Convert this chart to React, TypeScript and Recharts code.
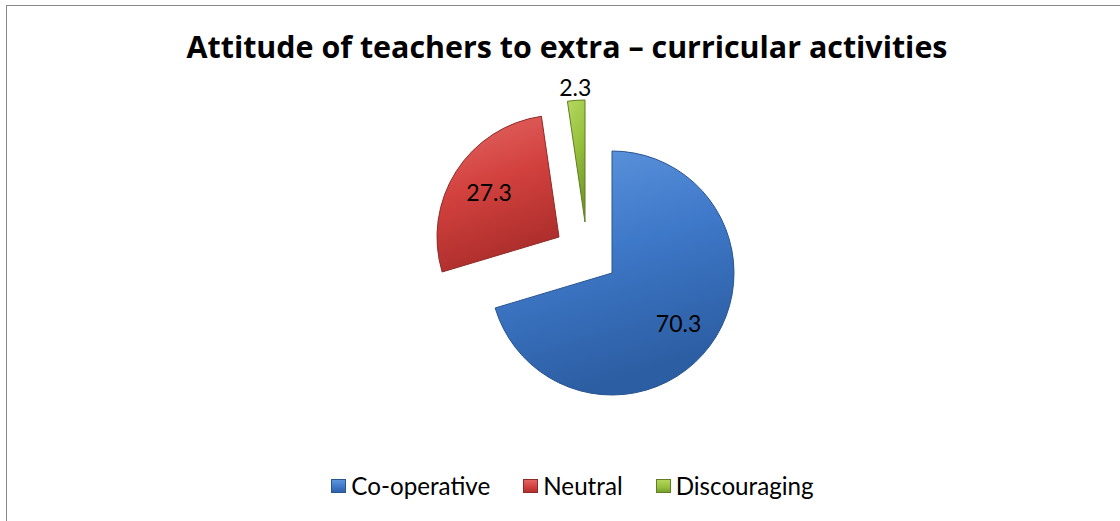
import { PieChart, Pie, Cell, Legend } from 'recharts';

const CATEGORIES = ['Co-operative', 'Neutral', 'Discouraging'];
const VALUES = [70.3, 27.3, 2.3];
const VALUE_LABELS = ['70.3', '27.3', '2.3'];

const COLORS = [
  { light: '#6198e0', mid: '#3e78c8', dark: '#2c5ea3', edge: '#2a5590' },
  { light: '#e46a67', mid: '#d2413e', dark: '#ac2e2c', edge: '#8f2a28' },
  { light: '#b6d860', mid: '#98c23e', dark: '#76992b', edge: '#5f7d22' },
];

const W = 1120;
const H = 521;
const CX = 612;
const CY = 273;
const R = 122;
// how far each slice is pulled away from the pie centre (px)
const EXPLODE = [
  { dx: 0, dy: 0 },
  { dx: -53, dy: -36 },
  { dx: -27, dy: -51 },
];

const FONT = 'Lato, "Open Sans", sans-serif';
const TITLE_FONT = '"Open Sans", Lato, sans-serif';
const RADIAN = Math.PI / 180;

const data = CATEGORIES.map((name, i) => ({ name, value: VALUES[i], label: VALUE_LABELS[i] }));

// each Pie draws the full data but only shows one slice, so it can be exploded on its own
const makeLabel = (slice: number) => (props: any) => {
  if (props.index !== slice) return null;
  const { cx, cy, midAngle, outerRadius } = props;
  const outside = slice === 2;
  const r = outside ? outerRadius + 13 : outerRadius * 0.68;
  const x = cx + r * Math.cos(-midAngle * RADIAN);
  const y = cy + r * Math.sin(-midAngle * RADIAN);
  return (
    <text
      key={`lbl-${slice}`}
      x={x}
      y={y}
      textAnchor="middle"
      dominantBaseline="central"
      fontFamily={FONT}
      fontSize={23}
      fill="#000"
    >
      {data[slice].label}
    </text>
  );
};

const renderLegend = () => (
  <div
    style={{
      display: 'flex',
      justifyContent: 'center',
      gap: 33,
      fontFamily: FONT,
      fontSize: 24.2,
      lineHeight: '28px',
      color: '#000',
    }}
  >
    {CATEGORIES.map((name, i) => (
      <div key={name} style={{ display: 'flex', alignItems: 'center' }}>
        <span
          style={{
            display: 'inline-block',
            width: 15,
            height: 14,
            marginRight: 5,
            background: `linear-gradient(${COLORS[i].light}, ${COLORS[i].mid} 55%, ${COLORS[i].dark})`,
            boxShadow: `inset 0 0 0 1px ${COLORS[i].edge}`,
          }}
        />
        {name}
      </div>
    ))}
  </div>
);

export default function App() {
  return (
    <div style={{ position: 'absolute', left: 0, top: 0, width: W, height: H, overflow: 'hidden', background: '#fff' }}>
      <div
        style={{
          position: 'absolute',
          left: 6,
          top: 5,
          width: W + 20,
          height: H + 20,
          border: '1px solid #878787',
          boxSizing: 'border-box',
        }}
      />
      <div
        style={{
          position: 'absolute',
          left: 0,
          top: 29,
          width: 1134,
          textAlign: 'center',
          fontFamily: TITLE_FONT,
          fontWeight: 700,
          fontSize: 30.4,
          lineHeight: 1.2,
          color: '#000',
        }}
      >
        Attitude of teachers to extra – curricular activities
      </div>
      <PieChart width={W} height={H} margin={{ top: 0, right: 0, bottom: 0, left: 0 }}>
        <defs>
          {COLORS.map((c, i) => (
            <linearGradient key={i} id={`grad-${i}`} x1="0" y1="0" x2="0.3" y2="1">
              <stop offset="0%" stopColor={c.light} />
              <stop offset="50%" stopColor={c.mid} />
              <stop offset="100%" stopColor={c.dark} />
            </linearGradient>
          ))}
        </defs>
        {EXPLODE.map((ex, slice) => (
          <Pie
            key={slice}
            data={data}
            dataKey="value"
            nameKey="name"
            cx={CX + ex.dx}
            cy={CY + ex.dy}
            outerRadius={R}
            startAngle={90}
            endAngle={-270}
            label={makeLabel(slice)}
            labelLine={false}
            isAnimationActive={false}
          >
            {data.map((d, j) => (
              <Cell
                key={d.name}
                fill={j === slice ? `url(#grad-${j})` : 'none'}
                stroke={j === slice ? COLORS[j].edge : 'none'}
                strokeWidth={1}
              />
            ))}
          </Pie>
        ))}
        <Legend
          content={renderLegend}
          wrapperStyle={{ left: 0, top: 472, bottom: 'auto', width: 1145 }}
        />
      </PieChart>
    </div>
  );
}
